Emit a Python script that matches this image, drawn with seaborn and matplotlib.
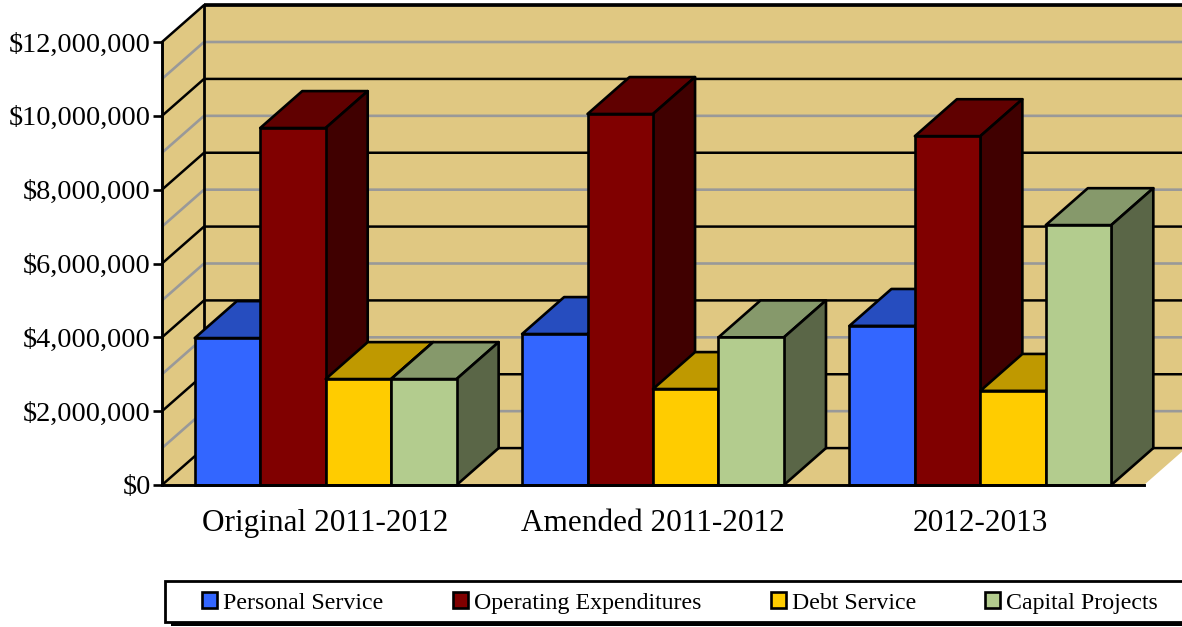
import matplotlib
matplotlib.use('Agg')
import matplotlib.pyplot as plt
from matplotlib.patches import Polygon, Rectangle
from matplotlib.colors import to_rgb
import pandas as pd
import seaborn as sns

periods = ["Original 2011-2012", "Amended 2011-2012", "2012-2013"]
categories = ["Personal Service", "Operating Expenditures", "Debt Service", "Capital Projects"]
personal_service = [3980000, 4090000, 4310000]
operating_expenditures = [9670000, 10050000, 9450000]
debt_service = [2870000, 2600000, 2550000]
capital_projects = [2870000, 4000000, 7040000]
colors = ["#3366FF", "#800000", "#FFCC00", "#B3CC8E"]
major_levels = [0, 2000000, 4000000, 6000000, 8000000, 10000000, 12000000]
minor_levels = [1000000, 3000000, 5000000, 7000000, 9000000, 11000000]
tick_labels = ["$0", "$2,000,000", "$4,000,000", "$6,000,000", "$8,000,000", "$10,000,000", "$12,000,000"]

WALL = "#E0C882"
GRID = "#999999"
W, H = 1182, 627
# depth of the fake 3D box, in data units
DEPTH_X = 42 / 327
DEPTH_Y = 1000000
LW = 1.9

sns.set_theme(style="white")
plt.rcParams['font.family'] = ['Liberation Serif', 'DejaVu Sans']

df = pd.DataFrame({
    'period': periods * 4,
    'category': [c for c in categories for _ in periods],
    'amount': personal_service + operating_expenditures + debt_service + capital_projects,
})

fig = plt.figure(figsize=(W / 100, H / 100), dpi=100, facecolor='white')
ax = fig.add_axes([162 / W, (H - 485) / H, (1144 - 162) / W, (485 - 42) / H])
ax.patch.set_visible(False)

sns.barplot(
    data=df, x='period', y='amount', hue='category', order=periods, hue_order=categories,
    palette=colors, saturation=1, width=0.8, gap=0, edgecolor='black', linewidth=LW, ax=ax
)
handles, labels = ax.get_legend_handles_labels()
ax.get_legend().remove()

x0, x1 = -0.5, 2.5
top = major_levels[-1]
ax.set_xlim(x0, x1)
ax.set_ylim(0, top)


def face(points, color, z, lw=LW, edge='black'):
    ax.add_patch(Polygon(points, closed=True, facecolor=color, edgecolor=edge,
                         linewidth=lw, zorder=z, clip_on=False, joinstyle='round'))


def line(xs, ys, color, lw, z=1.5):
    ax.plot(xs, ys, color=color, linewidth=lw, zorder=z, clip_on=False, solid_capstyle='butt')


# walls and floor
bx0, bx1 = x0 + DEPTH_X, x1 + DEPTH_X
face([(x0, 0), (bx0, DEPTH_Y), (bx0, top + DEPTH_Y), (x0, top)], WALL, 1, lw=0)
face([(bx0, DEPTH_Y), (bx1, DEPTH_Y), (bx1, top + DEPTH_Y), (bx0, top + DEPTH_Y)], WALL, 1, lw=0)
face([(x0, 0), (bx0, DEPTH_Y), (bx1, DEPTH_Y), (x1, 0)], WALL, 1, lw=0)

for v in minor_levels:
    line([x0, bx0, bx1], [v, v + DEPTH_Y, v + DEPTH_Y], GRID, 1.9)
for v in major_levels:
    line([x0, bx0, bx1], [v, v + DEPTH_Y, v + DEPTH_Y], 'black', 1.8)
line([bx0, bx0], [DEPTH_Y, top + DEPTH_Y], 'black', 2.0)
line([bx0, bx1], [top + DEPTH_Y, top + DEPTH_Y], 'black', 2.6)

# top and side faces on the seaborn bars, left to right so nearer bars cover older ones
for g in range(len(periods)):
    for i, container in enumerate(ax.containers):
        bar = container.patches[g]
        left, right = bar.get_x(), bar.get_x() + bar.get_width()
        h = bar.get_height()
        rgb = to_rgb(colors[i])
        z = 3 + g * 5 + i
        face([(left, h), (left + DEPTH_X, h + DEPTH_Y), (right + DEPTH_X, h + DEPTH_Y), (right, h)],
             [c * 0.75 for c in rgb], z)
        face([(right, 0), (right + DEPTH_X, DEPTH_Y), (right + DEPTH_X, h + DEPTH_Y), (right, h)],
             [c * 0.5 for c in rgb], z)
        bar.set_zorder(z + 0.5)
        bar.set_clip_on(False)

sns.despine(ax=ax)
for name in ('left', 'bottom'):
    ax.spines[name].set_linewidth(2.1)
    ax.spines[name].set_color('black')
    ax.spines[name].set_zorder(40)

ax.set_yticks(major_levels)
ax.set_yticklabels(tick_labels)
ax.tick_params(axis='y', length=6.5, width=1.9, pad=1.5, labelsize=20.3, colors='black', left=True)
ax.tick_params(axis='x', length=0, pad=17, labelsize=22.5, colors='black')
ax.set_xlabel("")
ax.set_ylabel("")

# legend box runs off the right edge of the picture
fig.add_artist(Rectangle((171 / W, (H - 626) / H), 1100 / W, 45 / H, transform=fig.transFigure,
                         facecolor='black', edgecolor='none'))
fig.add_artist(Rectangle((165 / W, (H - 622) / H), 1100 / W, 41 / H, transform=fig.transFigure,
                         facecolor='white', edgecolor='black', linewidth=2.0))
fs = 17.2
px = fs * 100 / 72
leg = fig.legend(
    handles, labels, ncol=4, frameon=False, loc='center left',
    bbox_to_anchor=(202 / W, (H - 603) / H), fontsize=fs, borderpad=0, borderaxespad=0,
    handlelength=15 / px, handleheight=15 / px, handletextpad=6 / px, columnspacing=69.5 / px
)
for t in leg.get_texts():
    t.set_color('black')

fig.savefig('out.png', dpi=100)
